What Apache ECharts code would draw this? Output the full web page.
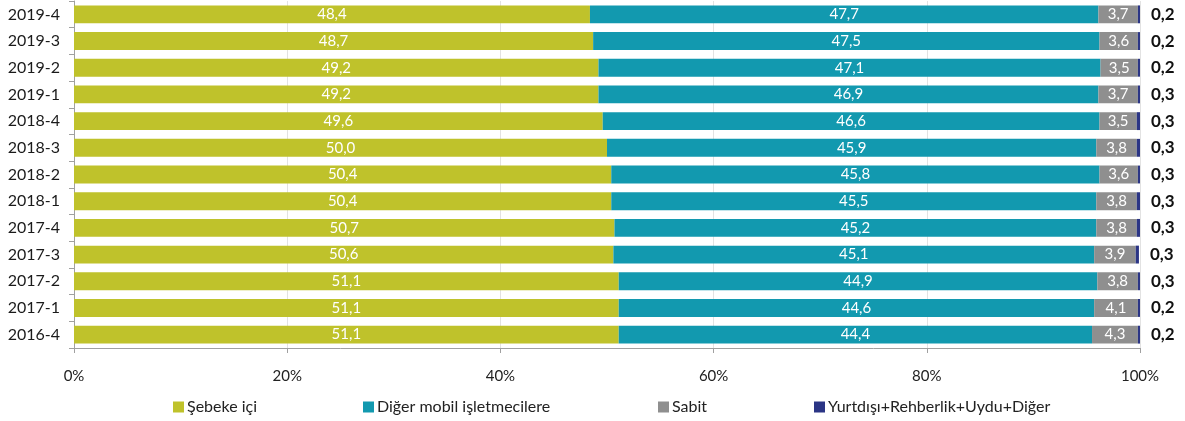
<!DOCTYPE html>
<html><head><meta charset="utf-8">
<script src="https://cdn.jsdelivr.net/npm/echarts@6/dist/echarts.min.js"></script>
<style>html,body{margin:0;padding:0;background:#fff}#c{width:1185px;height:421px}</style>
</head><body><div id="c"></div>
<script>
const categories = ['2019-4','2019-3','2019-2','2019-1','2018-4','2018-3','2018-2','2018-1','2017-4','2017-3','2017-2','2017-1','2016-4'];
const seriesNames = ['Şebeke içi','Diğer mobil işletmecilere','Sabit','Yurtdışı+Rehberlik+Uydu+Diğer'];
const sebeke = [48.4,48.7,49.2,49.2,49.6,50.0,50.4,50.4,50.7,50.6,51.1,51.1,51.1];
const diger = [47.7,47.5,47.1,46.9,46.6,45.9,45.8,45.5,45.2,45.1,44.9,44.6,44.4];
const sabit = [3.7,3.6,3.5,3.7,3.5,3.8,3.6,3.8,3.8,3.9,3.8,4.1,4.3];
const yurtdisi = [0.2,0.2,0.2,0.3,0.3,0.3,0.3,0.3,0.3,0.3,0.3,0.2,0.2];
const xTicks = ['0%','20%','40%','60%','80%','100%'];
const colors = ['#bfc22b','#1299af','#8f8f8f','#2b3585'];
const FONT = 'Lato';
const fmt = p => p.value.toFixed(1).replace('.', ',');
const data = [sebeke, diger, sabit, yurtdisi];
const legendLefts = [168, 358, 653, 809];

const chart = echarts.init(document.getElementById('c'), null, {renderer:'canvas'});
chart.setOption({
  animation: false,
  textStyle: {fontFamily: FONT},
  grid: {left: 74, right: 45, top: 1, bottom: 73, containLabel: false},
  legend: seriesNames.map((n, i) => ({
    data: [n], left: legendLefts[i], top: 394, itemWidth: 11, itemHeight: 11,
    icon: 'rect', itemGap: 4,
    textStyle: {fontFamily: FONT, fontSize: 16, color: '#222', padding: [0,0,0,-2]}
  })),
  xAxis: {
    type: 'value', min: 0, max: 100, interval: 20,
    axisLine: {show: true, lineStyle: {color: '#a0a0a0'}},
    axisTick: {show: true, length: 5, lineStyle: {color: '#a0a0a0'}},
    splitLine: {show: true, lineStyle: {color: '#e2e2e2'}},
    axisLabel: {formatter: v => xTicks[Math.round(v/20)], fontSize: 15, color: '#222', margin: 21, fontFamily: FONT}
  },
  yAxis: {
    type: 'category', data: categories, inverse: true,
    axisLine: {show: true, lineStyle: {color: '#a0a0a0'}},
    axisTick: {show: true, length: 5, lineStyle: {color: '#a0a0a0'}},
    axisLabel: {fontSize: 16, color: '#1a1a1a', margin: 14, fontFamily: FONT}
  },
  series: data.map((d, i) => ({
    name: seriesNames[i], type: 'bar', stack: 'total', data: d,
    barCategoryGap: '33%',
    itemStyle: {color: colors[i]},
    label: i < 3 ? {
      show: true, position: 'inside', color: '#fff', fontSize: 15, fontFamily: FONT, formatter: fmt
    } : {
      show: true, position: 'right', distance: 11, color: '#111', fontSize: 17, fontWeight: 'bold', fontFamily: FONT, formatter: fmt
    }
  }))
});
</script></body></html>
